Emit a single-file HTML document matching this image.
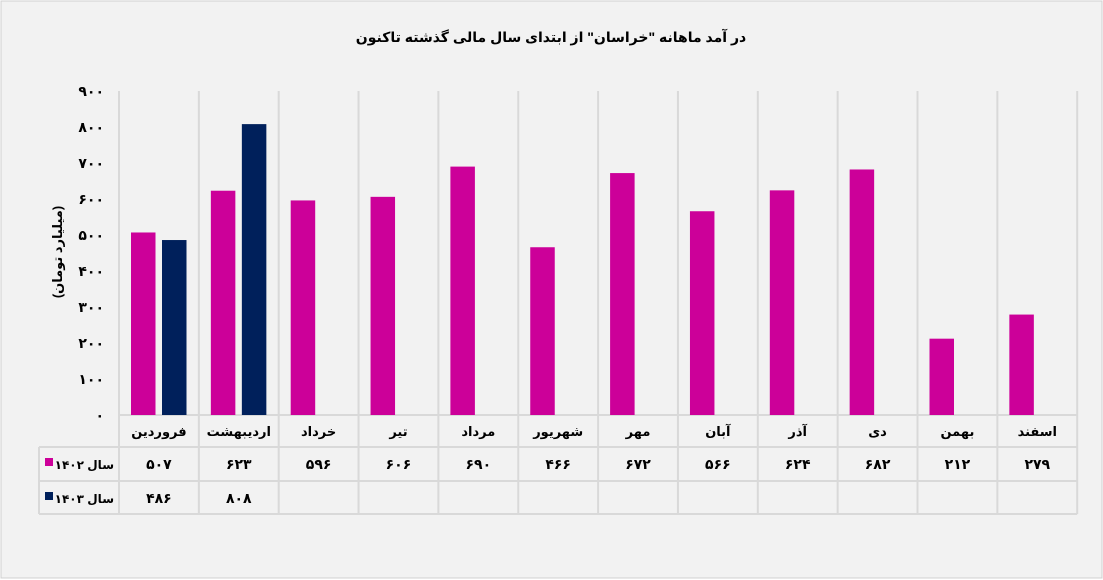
<!DOCTYPE html>
<html><head><meta charset="utf-8"><style>
html,body{margin:0;padding:0;background:#fff}
svg{display:block;font-family:"Liberation Sans","DejaVu Sans","Noto Sans CJK SC",sans-serif}
</style></head><body>
<svg id="chart" width="1103" height="580" xmlns="http://www.w3.org/2000/svg">
<rect x="1" y="1" width="1101" height="577" fill="#f2f2f2" stroke="#d0d0d0"/>
<text x="551" y="42" text-anchor="middle" font-size="14" font-weight="bold" fill="#000" direction="rtl">در آمد ماهانه "خراسان" از ابتدای سال مالی گذشته تاکنون</text>
<text transform="translate(62,252) rotate(-90)" text-anchor="middle" font-size="13" font-weight="bold" direction="rtl">(میلیارد تومان)</text>
<g id="grid"></g><g id="bars"></g><g id="table"></g>
</svg>
<script>
const categories=["فروردین","اردیبهشت","خرداد","تیر","مرداد","شهریور","مهر","آبان","آذر","دی","بهمن","اسفند"];
const s1402=[507,623,596,606,690,466,672,566,624,682,212,279];
const s1403=[486,808];
const yTicks=[0,100,200,300,400,500,600,700,800,900];
const seriesNames=["سال ۱۴۰۲","سال ۱۴۰۳"];
const colors=["#cc0099","#00205b"];
const NS="http://www.w3.org/2000/svg";
const x0=119,cw=79.85,y0=415,yTop=91;
const yScale=v=>y0-(v/900)*(y0-yTop);
const xCat=i=>x0+i*cw;
const fa=n=>String(n).replace(/\d/g,d=>"۰۱۲۳۴۵۶۷۸۹"[d]);
function mk(tag,attrs,parent,text){const e=document.createElementNS(NS,tag);for(const k in attrs)e.setAttribute(k,attrs[k]);if(text!==undefined)e.textContent=text;parent.appendChild(e);return e;}
const grid=document.getElementById('grid'),bars=document.getElementById('bars'),tbl=document.getElementById('table');
const gc="#d9d9d9";
for(let i=0;i<=categories.length;i++){
  const l=mk('line',{x1:xCat(i),x2:xCat(i),y1:yTop,y2:514,stroke:gc,'stroke-width':2},grid);
  
  
}
yTicks.forEach(v=>{
  const t=mk('text',{x:104,y:yScale(v)+5,'text-anchor':'end','font-size':14,'font-weight':'bold'},grid,fa(v));
  
  
});
const ax=mk('line',{x1:x0,x2:xCat(12),y1:y0,y2:y0,stroke:gc,'stroke-width':2},grid);


[s1402,s1403].forEach((s,si)=>{
  s.forEach((v,i)=>{
    const r=mk('rect',{x:xCat(i)+12+si*31,y:yScale(v),width:24.5,height:y0-yScale(v),fill:colors[si]},bars);
    
    
  });
});
[[39,447],[39,481],[39,514]].forEach(([x,y])=>{
  const l=mk('line',{x1:x,x2:xCat(12),y1:y,y2:y,stroke:gc,'stroke-width':2},tbl);
  
  
});
const lv=mk('line',{x1:39,x2:39,y1:447,y2:514,stroke:gc,'stroke-width':2},tbl);


categories.forEach((c,i)=>{
  const t=mk('text',{x:xCat(i)+cw/2,y:436,'text-anchor':'middle','font-size':13,'font-weight':'bold',direction:'rtl'},tbl,c);
  
  
});
[s1402,s1403].forEach((s,si)=>{
  const ry=469+si*34;
  const sw=mk('rect',{x:45,y:ry-11,width:8,height:8,fill:colors[si]},tbl);
  
  
  const lt=mk('text',{x:114,y:ry,'text-anchor':'start','font-size':12,'font-weight':'bold',direction:'rtl'},tbl,seriesNames[si]);
  
  
  s.forEach((v,i)=>{
    const t=mk('text',{x:xCat(i)+cw/2,y:ry,'text-anchor':'middle','font-size':14,'font-weight':'bold'},tbl,fa(v));
    
    
  });
});
</script>
</body></html>
